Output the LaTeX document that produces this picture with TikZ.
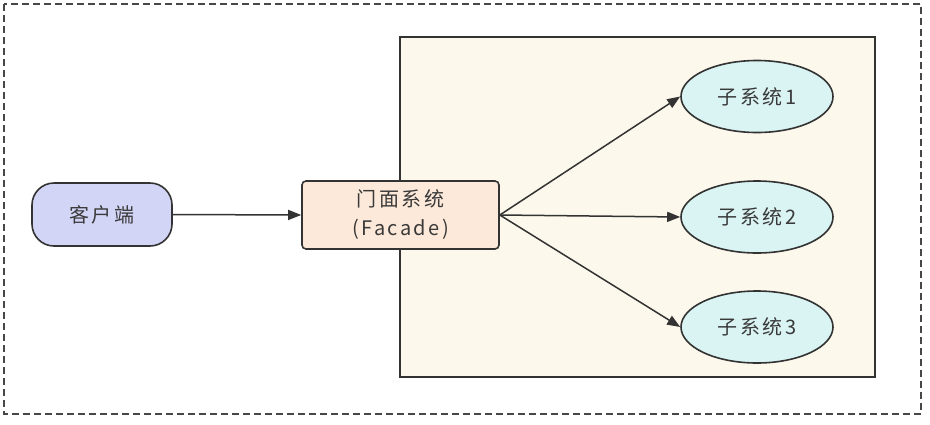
\documentclass[tikz,border=0pt]{standalone}
\usepackage{fontspec}
\setmainfont{Noto Sans CJK SC}[LetterSpace=12]
\usetikzlibrary{shapes.geometric,arrows.meta}
\definecolor{ln}{HTML}{333333}
\definecolor{txt}{HTML}{3A3A3A}
\definecolor{cli}{HTML}{D3D5F7}
\definecolor{fac}{HTML}{FCE9D9}
\definecolor{grp}{HTML}{FCF8EB}
\definecolor{sub}{HTML}{D9F4F3}
\tikzset{
  base/.style={draw=ln, line width=1.6pt, text=txt, font=\fontsize{20}{29}\selectfont, inner sep=0pt, align=center},
  clientbox/.style={base, rectangle, rounded corners=22pt, fill=cli, minimum width=140pt, minimum height=63pt},
  facadebox/.style={base, rectangle, rounded corners=4pt, fill=fac, minimum width=197pt, minimum height=68pt},
  subell/.style={base, ellipse, fill=sub, minimum width=152pt, minimum height=72pt},
  arr/.style={draw=ln, line width=1.5pt, -{Triangle[length=13pt,width=10pt]}},
}
\begin{document}
\begin{tikzpicture}[x=1pt,y=-1pt]
\useasboundingbox (0,0) rectangle (930,424);
\draw[draw=ln!90, line width=1.3pt, dash pattern=on 7pt off 4pt] (4,4) rectangle (921,414);
\draw[draw=ln, line width=1.5pt, fill=grp] (400,37) rectangle (875,377);
\node[clientbox] (client) at (102,214.5) {客户端};
\node[facadebox] (facade) at (400.5,215) {门面系统\\(Facade)};
\node[subell] (s1) at (757,96.5) {子系统1};
\node[subell] (s2) at (757,217) {子系统2};
\node[subell] (s3) at (757,327) {子系统3};
\draw[arr] (client.east) -- (facade.west);
\draw[arr] (facade.east) -- (s1.west);
\draw[arr] (facade.east) -- (s2.west);
\draw[arr] (facade.east) -- (s3.west);
\end{tikzpicture}
\end{document}
